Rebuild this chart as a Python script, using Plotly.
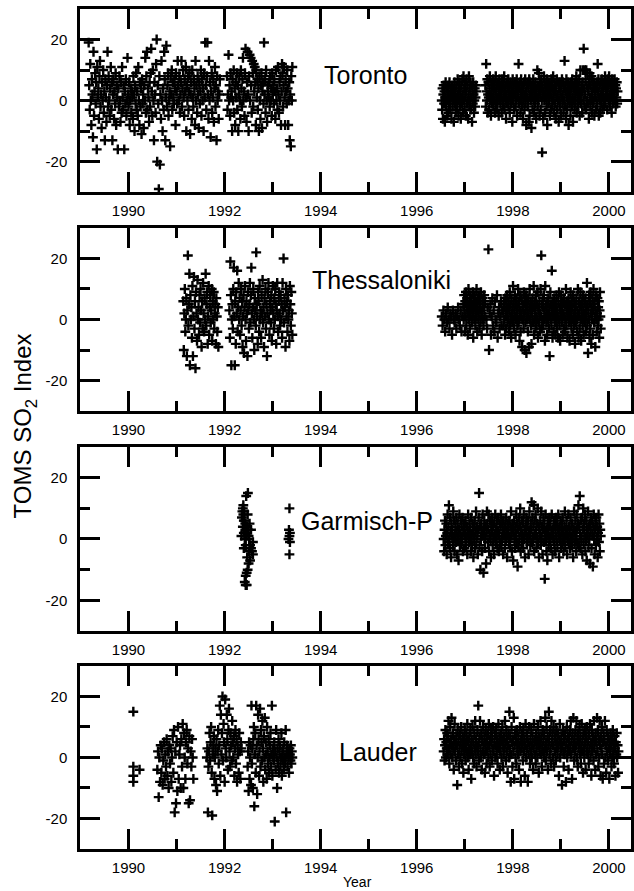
import plotly.graph_objects as go

# ---------------- data ----------------
# Each segment: (first year, last year, observed index values in time order)

toronto_1989_1991 = [
    19, 5, -3, 12, 0, -8, 7, 2, -12,
    16, -5, 3, 9, -1, 6, -16, 11, 1,
    4, -6, 8, 13, -2, 2, -9, 6, 0,
    10, -4, 3, -13, 7, 1, -7, 5, 16,
    -2, 8, 0, -5, 4, 11, -3, 6, -13,
    2, 7, -6, 3, -1, 9, -8, 5, 1,
    -16, 4, -2, 8, 0, -7, 6, -4, 11,
    1, -3, 5, -16, 3, -1, 7, -5, 0,
    14, 2, -2, 6, -8, 0, 4, -4, 3,
    1, -6, 8, 2, -10, 5, -1, 9, -3,
    3, -5, 11, 0, -8, 6, -2, 4, -11,
    7, -1, 2, -9, 5, 0, 14, -4, 8,
    16, -3, 4, 1, -7, 6, -2, 9, 17,
    3, -5, 10, 0, -13, 6, 2, -4, 12,
    20, -20, 5, -1, -29, 8, -21, 2, -6,
    13, 0, -10, 4, -3, 16, 7, -13, 1,
    18, -2, 5, 9, -5, 0, 3, -15, 8,
    2, 10, -3, 6, 1, -1, 7, 4, -8,
    9, 3, -1, 13, 5, 0, 8, -4, 2,
    6, 13, -2, 4, 10, 1, -5, 7, 3,
    11, -10, 5, 0, 8, -3, 3, 9, -11,
    2, 6, -6, 10, 1, -2, 7, 4, -8,
    13, 0, 5, -4, 8, 2, -9, 6, -1,
    3, 10, -5, 7, 0, 4, -10, 9, 1,
    19, 5, -3, 8, 19, 2, -6, 13, 0,
    6, -12, 3, 9, -4, 1, 7, -7, 4,
    11, -2, 5, -13, 8, 0, 3, -6, 2, 7,
]
toronto_1992_1993 = [
    8, -3, 2, 15, 0, 5, -5, 9, 1,
    3, -10, 7, 0, 10, -4, 4, -8, 6,
    1, 9, -3, 5, -10, 2, 8, 0, -6,
    10, 4, -2, 7, 14, 0, 3, -5, 9,
    17, 1, -7, 6, 16, 2, -10, 8, 15,
    0, 14, 5, -4, 13, 9, -2, 12, 3,
    11, 6, -8, 10, 1, 7, -3, 4, -10,
    8, 0, -6, 5, 9, -9, 3, 6, -1,
    19, 2, 7, -4, 10, 0, -7, 5, 3,
    1, 6, -2, 8, 0, 4, -5, 9, 2,
    5, -1, 7, 3, -6, 10, 0, 4, -3,
    11, 2, -4, 6, 0, 8, -8, 3, 12,
    9, -2, 5, 11, 1, -8, 7, 3, -1,
    10, 4, -8, 0, 6, -13, 2, -15, 8, 0, 11,
]
toronto_1996_1997 = [
    0, -3, 4, -6, 2, 5, -1, 3, -7,
    1, 6, -2, 4, 0, -5, 3, 5, -4,
    2, -1, 6, 0, -3, 4, 1, -6, 3,
    5, -2, 0, 4, -7, 2, 6, -1, 3,
    -4, 1, 5, 0, -3, 7, 2, -5, 4,
    0, 6, -2, 3, -6, 1, 5, -1, 7,
    2, -4, 8, 0, 4, -3, 6, 1, -5,
    3, 7, -1, 5, 0, -6, 2, 8, -2,
    4, 0, 6, -3, 1, 5, -7, 3, -1,
    6, 2, -4, 0, 4, -2, 1, 5, 3,
]
toronto_1997_2000 = [
    5, -2, 12, 3, 0, 7, -4, 2, 6, 1,
    -3, 4, 8, 0, 2, -5, 6, 3, -1, 5,
    1, 7, -2, 4, 0, 6, -4, 3, 8, -1,
    2, 5, -3, 0, 6, 1, -5, 4, 7, 0,
    3, -1, 5, 2, -4, 7, 0, 4, -2, 6,
    1, 8, -3, 3, 5, 0, -6, 2, 6, -1,
    4, 0, 7, -2, 3, 5, -4, 1, 6, 2,
    -1, 5, 3, -7, 7, 0, 4, 2, -3, 6,
    2, 6, -2, 4, 0, 7, -5, 3, 1, 5,
    12, -1, 4, 6, 0, -4, 3, 7, 1, -2,
    5, 2, -6, 4, 0, 6, -3, 2, 7, -1,
    3, -8, 5, 1, 6, -2, 0, 4, -7, 7,
    -5, 2, 6, 0, 3, -9, 5, 1, -3, 4,
    7, 0, -4, 3, 5, -1, 6, 2, -6, 4,
    1, 10, -2, 5, 0, 9, 3, -5, 6, 2,
    -3, 4, 7, 0, -17, 5, 2, -6, 3, 8,
    0, 6, -4, 3, 1, 5, -2, 7, -8, 2,
    4, -1, 6, 0, 3, -5, 5, 2, -3, 7,
    1, 5, -2, 4, 8, 0, -4, 3, 6, -1,
    3, -6, 5, 1, 7, -3, 2, 0, 6, -7,
    4, 0, -2, 6, 3, -5, 5, 1, 7, -1,
    2, 6, -4, 0, 4, 13, -2, 5, 3, -6,
    7, 1, -3, 4, 0, 6, -8, 2, 5, -1,
    3, -5, 6, 0, 4, -2, 7, 1, -7, 5,
    0, 4, -3, 6, 2, -1, 5, 8, -4, 3,
    6, 1, -2, 4, 0, 7, -5, 3, 10, 2,
    -1, 5, 3, -4, 6, 10, 0, 17, 4, -2,
    10, 2, 7, -3, 10, 5, 0, 9, -1, 4,
    3, -6, 6, 9, 1, -2, 5, 0, 8, -4,
    2, 7, -1, 4, 0, 6, -5, 3, 1, 5,
    -3, 4, 0, 6, -2, 12, 3, 7, -5, 1,
    5, 0, -4, 6, 2, -1, 7, 3, -3, 4,
    1, 6, -2, 5, 0, 8, -1, 3, 6, 2,
    4, -3, 7, 1, 5, 0, 8, 2, -2, 6,
    0, 5, 3, -4, 7, 1, 4, -1, 6, 2,
    3, 7, 0, 5, -2, 4, 1, 6, -1, 3,
]

thess_1991 = [
    6, -10, 2, 10, -4, 0, 7, -12, 3, 21,
    -2, 5, 15, -15, 8, 0, 4, -6, 11, -12,
    1, 14, -3, 6, -16, 9, 2, -7, 13, 0,
    4, -5, 8, -1, 10, 3, -9, 6, -3, 12,
    2, -4, 7, 0, 15, -2, 5, 9, -8, 1,
    11, -5, 4, 8, -1, 3, 10, -7, 6, 0,
    9, -3, 2, 5, -8, 7, 1, -4, 4, -9,
]
thess_1992_1993 = [
    3, -6, 19, 8, -15, 0, 5, -3, 10, 17,
    1, -15, 6, -8, 9, 2, 16, -4, 4, 12,
    0, 7, -5, 3, 10, -2, 6, -9, 1, 8,
    -11, 4, 11, 0, -7, 6, 2, -12, 9, 3,
    -3, 5, 12, -1, 8, 17, 2, -6, 4, 10,
    0, -10, 7, 3, -2, 22, 5, 1, -8, 9,
    6, -4, 11, 0, 3, -6, 8, 2, 13, -1,
    4, -9, 7, 1, 10, -3, 5, -12, 2, 9,
    12, 0, -5, 6, 3, -1, 8, -7, 4, 11,
    2, -3, 7, 0, 10, 5, -8, 3, 12, 1,
    -4, 6, 9, 2, -2, 8, 0, 5, -6, 12,
    3, 20, -1, 7, 4, -9, 10, 1, 6, -4,
    8, 0, 3, -7, 11, 5, -2, 9, 2, -5,
]
thess_1996 = [1, -2, 3, 0, -4, 2, -1, 4, 0, -3, 2, 1, -5, 3, 0, -1, 2, -3, 1, 4, 0, -2, 3, -4, 1]
thess_1997a = [
    5, 0, 8, 3, -4, 6, 1, 9, -2, 4,
    7, 2, -5, 5, 10, 0, 3, 6, -3, 8,
    1, 4, 7, -1, 5, 2, 9, -6, 3, 6,
    0, 8, 4, -2, 6, 1, 10, 3, -4, 5,
    7, 0, 2, 8, -3, 4, 6, -1, 9, 2,
    -5, 3, 7, 0, 5, -2, 4, 8, 1, 6,
]
thess_1997b = [0, -3, 4, 23, -10, 2, 5, -5, 1, 7, -2, 3, -4, 6, 0, -1, 8, -6, 2, 4, -3, 1, 6, -2, 3]
thess_1998_1999 = [
    3, -2, 6, 0, 4, -5, 7, 1, -3, 5,
    2, 8, -1, 4, 0, 6, -4, 3, 9, -2,
    5, 1, -6, 7, 2, -1, 4, 11, 0, 6,
    -3, 3, 8, 1, -5, 5, 0, 7, 2, -2,
    4, 10, -1, 6, 0, -7, 3, 8, -4, 2,
    1, 7, -9, 4, 0, 5, -3, 9, 2, -10,
    6, -1, 3, 8, -11, 0, 5, 2, -4, 7,
    1, -9, 4, 10, 0, 6, -2, 3, -8, 5,
    2, 7, -1, 4, 11, -5, 0, 6, 3, -3,
    8, 1, -2, 5, 0, 9, -6, 3, 4, -1,
    6, 2, -4, 10, 1, 21, -3, 5, 0, 7,
    -2, 4, 8, 0, 3, -7, 11, 1, 5, -1,
    3, -5, 6, 0, 2, 7, -3, 4, -12, 1,
    9, 0, 5, -2, 16, 3, -6, 6, 1, -4,
    4, 7, -1, 2, -5, 5, 0, 8, -3, 3,
    1, -6, 6, 0, 9, -2, 4, -7, 2, 5,
    8, -1, 3, 0, -5, 6, 2, -3, 7, 1,
    -4, 5, 0, 10, -2, 3, 6, -6, 1, 4,
    7, -1, 2, -7, 5, 0, 9, 3, -3, 6,
    0, 4, -5, 8, 1, -2, 6, 3, -8, 2,
    5, -1, 7, 0, -4, 3, 10, 1, -6, 6,
    2, -3, 5, 9, 0, -7, 4, 1, 6, -2,
    8, 3, -5, 0, 6, 2, -1, 7, -4, 4,
    1, 12, -2, 5, -11, 3, 0, 8, -6, 6,
    -3, 9, 2, -8, 4, 0, 7, -5, 3, 10,
    5, -1, 6, 1, -9, 3, 8, 0, -4, 2,
    7, -2, 4, 0, 6, -6, 3, 9, 1, -3,
]

# Garmisch-P 1992/1993: individually read points (year, value)
garm_1992_x = [1992.485, 1992.45, 1992.38, 1992.41, 1992.39, 1992.48, 1992.41, 1992.52, 1992.38,
               1992.55, 1992.40, 1992.46, 1992.35, 1992.50, 1992.42, 1992.59, 1992.44, 1992.55,
               1992.40, 1992.51, 1992.59, 1992.47, 1992.53, 1992.50, 1992.48, 1992.46, 1992.44,
               1992.42, 1992.44, 1992.46, 1992.36, 1992.43, 1992.37, 1992.49, 1992.45, 1992.53,
               1992.40, 1992.47, 1992.57, 1992.43, 1992.39, 1992.51]
garm_1992_y = [15, 14, 10, 9, 8, 8, 6, 5, 4,
               3, 2, 2, 1, 1, 0, -1, -2, -3,
               -3, -4, -5, -6, -7, -8, -10, -11, -12,
               -14, -15, -15, 7, 5, 9, 3, 1, -2,
               6, 4, -4, 3, 11, 0]
garm_1993_x = [1993.35, 1993.34, 1993.36, 1993.35, 1993.33, 1993.36, 1993.35]
garm_1993_y = [10, 3, 2, 1, 0, -1, -5]
garm_1996_1999 = [
    0, -4, 3, 6, -2, 1, 5, -5, 2, 8,
    -1, 4, 11, 0, -3, 7, 2, -6, 5, 1,
    3, -2, 9, 0, 6, -4, 1, 4, -1, 7,
    2, -5, 5, 0, -7, 3, 8, -2, 1, 6,
    -1, 4, 0, 7, -4, 2, 5, -3, 3, 1,
    6, -2, 0, 4, -5, 2, 8, 1, -1, 5,
    3, 0, -4, 7, 1, -2, 5, 2, -6, 4,
    0, 6, -3, 2, 9, -1, 4, 1, -5, 3,
    7, 15, -2, 4, -10, 0, 5, 2, -4, 8,
    1, -11, 3, 6, -3, 0, 4, -8, 2, 9,
    5, -1, 3, 8, -4, 1, 6, 0, -6, 4,
    2, 7, -2, 4, 0, -5, 5, 1, 8, -1,
    3, 0, 6, -3, 2, 7, -4, 1, 5, -1,
    4, 8, -2, 0, 5, 2, -5, 6, 1, 3,
    -3, 4, 0, 7, 2, -6, 5, 1, 3, -1,
    6, 0, -2, 4, 9, 1, -4, 3, 5, -7,
    2, 6, 0, -3, 4, 1, 8, -1, 5, -9,
    3, -2, 7, 0, 4, 10, -4, 2, 6, -1,
    1, 5, -3, 8, 0, 3, -6, 4, 2, 7,
    -1, 4, 0, 6, -5, 2, 9, 1, -2, 5,
    3, 12, -1, 7, 0, 4, 11, -4, 6, 1,
    8, 2, -3, 5, 0, 10, -1, 4, -6, 3,
    1, 6, -2, 9, 0, 4, -5, 3, 7, -1,
    5, -13, 2, 8, 0, -4, 3, -7, 6, 1,
    -2, 4, 7, 0, 5, -3, 2, 8, 1, -5,
    3, 0, 6, -1, 4, -4, 2, 7, 0, 5,
    -2, 3, 8, 1, -6, 4, 0, 6, -3, 2,
    5, -1, 7, 2, -4, 0, 4, 9, -2, 3,
    1, 6, -5, 3, 0, 8, -1, 4, 2, -3,
    7, 0, 4, -2, 5, 1, -6, 3, 9, -1,
    2, 6, 0, -4, 8, 3, -1, 5, 11, -2,
    4, 14, 1, -3, 6, 0, 7, -5, 3, 10,
    -1, 5, 2, 8, -4, 0, 6, -7, 3, 1,
    9, -2, 4, 0, -8, 5, 2, 7, -3, 6,
    1, -9, 4, 8, 0, -5, 3, 6, -2, 7,
    0, 4, -6, 2, 8, -1, 5, -4, 3, 1,
]

lauder_1990_x = [1990.10, 1990.10, 1990.10, 1990.10, 1990.23]
lauder_1990_y = [15, -3, -6, -8, -4]
lauder_1990_1991 = [
    -4, 2, -13, 0, -8, 4, -5, 3, -9, -1,
    5, -7, 1, -3, 6, -6, 2, -10, 4, -2,
    3, -8, 0, 7, -5, 9, -18, 2, -15, 5,
    -11, 10, -7, 1, 4, -10, 6, -3, 11, -10,
    8, 0, -7, 5, 9, -2, 3, -15, 7, -14,
    2, -3, 6, 0, -7,
]
lauder_1991_1992 = [
    0, 3, -18, -3, 2, 8, -1, 5, 10, -5,
    -19, 1, 4, 7, -7, 0, 3, -9, 6, -11,
    2, 9, -2, 4, 17, -6, 14, 1, 8, 20,
    -1, 11, 5, -8, 19, 3, 0, 14, 6, -4,
    9, 16, 2, -3, 8, 4, -1, 12, 5, 0,
    7, -6, 3, 9, -2, 6, -8, 4, 1, -5,
    8, 2, -7, 5, 3,
]
lauder_1992_1993 = [
    -3, 2, -11, 5, -7, 0, 4, -9, 17, -2,
    3, -10, 6, 10, -16, 1, 8, -5, 17, 4,
    -12, 0, 14, 6, -6, 2, 16, -3, 9, 5,
    -1, 12, 3, -8, 7, 0, 13, -4, 5, 1,
    -7, 10, 2, -2, 6, -5, 0, 4, 8, -3,
    1, 17, -6, 3, 0, -1, 5, -21, 2, -4,
    9, 0, -10, 3, -2, 6, -5, 1, 4, -3,
    0, 8, -6, 2, -1, 3, -4, 5, 0, -2,
    9, -18, 1, 4, -3, 2, 0, -5, 3, 1,
    -1, 4, -2, 2, 0,
]
lauder_1996_2000 = [
    2, 6, -1, 4, 9, 0, 5, 3, 8, 1,
    7, 12, 3, -2, 5, 10, 1, 6, 13, 4,
    0, 8, 3, -4, 6, 11, 2, 5, -1, 7,
    4, -9, 9, 1, 6, -3, 3, 8, 0, 5,
    10, 2, -2, 7, 4, -5, 6, 1, 9, 3,
    -1, 5, 8, 2, 11, 0, 6, -4, 3, 7,
    1, 9, 4, -7, 6, 2, 10, 0, 5, -2,
    8, 3, 12, 1, 6, -3, 4, 9, 2, 17,
    5, -1, 7, 12, 3, 0, 8, -4, 6, 2,
    10, 4, 1, 7, -5, 5, 9, 2, -2, 6,
    3, 8, 0, 11, 4, -3, 6, 1, 9, 5,
    -1, 7, 3, 10, 2, -6, 5, 8, 0, 4,
    9, 1, 6, -2, 4, 11, 3, 7, -4, 5,
    2, 8, 0, 6, 10, -3, 4, 1, 7, 3,
    12, 5, -1, 9, 2, 6, -5, 4, 8, 0,
    15, 3, 7, -8, 1, 10, 5, -3, 6, 2,
    13, -7, 4, 8, 0, 6, -2, 9, 3, 5,
    1, 7, -4, 4, 10, 2, -8, 6, 3, 8,
    5, -1, 9, 2, 6, -6, 4, 11, 0, 7,
    3, 8, -8, 5, 1, 10, 4, -2, 6, 2,
    9, 0, 4, 7, -4, 3, 11, 5, 1, 6,
    -2, 8, 3, 6, 0, 10, 4, -5, 7, 2,
    5, 12, 1, 7, -3, 4, 9, 2, 6, 0,
    8, 3, 13, -1, 5, 10, 2, 7, -4, 4,
    15, 6, 1, 9, 3, -2, 12, 5, 8, 0,
    4, 10, -3, 7, 2, 6, -1, 9, 3, 5,
    1, 8, 4, -6, 6, 11, 0, 5, 3, 7,
    -9, 4, 9, 2, -3, 6, 1, 8, 3, -8,
    5, 10, 0, 7, 3, -4, 6, 2, 9, 4,
    12, 1, 6, -7, 8, 3, 13, 5, -1, 7,
    2, 9, 4, 12, 0, 6, -3, 8, 3, 5,
    10, 1, 7, -2, 4, 11, 2, 6, -5, 8,
    3, 0, 9, 5, -4, 7, 2, 10, 4, 1,
    6, -2, 8, 3, 11, 0, 5, -6, 9, 2,
    4, 7, -1, 12, 3, 6, -4, 8, 1, 5,
    13, 2, 9, -3, 6, 0, 12, 4, -6, 7,
    3, 10, 1, -7, 5, 8, -2, 6, 12, 0,
    4, -5, 9, 2, 6, -1, 7, 3, -7, 5,
    1, 8, 4, -3, 6, 0, 9, 2, 5, -2,
    7, 3, -6, 5, 1, 8, 0, 4, -5, 2,
]

stations = ["Toronto", "Thessaloniki", "Garmisch-P", "Lauder"]
segments = {
    "Toronto": [(1989.17, 1991.90, toronto_1989_1991), (1992.05, 1993.41, toronto_1992_1993),
                (1996.52, 1997.24, toronto_1996_1997), (1997.43, 2000.18, toronto_1997_2000)],
    "Thessaloniki": [(1991.14, 1991.87, thess_1991), (1992.10, 1993.41, thess_1992_1993),
                     (1996.52, 1996.95, thess_1996), (1996.97, 1997.42, thess_1997a),
                     (1997.45, 1997.78, thess_1997b), (1997.80, 1999.83, thess_1998_1999)],
    "Garmisch-P": [(1996.56, 1999.83, garm_1996_1999)],
    "Lauder": [(1990.60, 1991.35, lauder_1990_1991), (1991.63, 1992.35, lauder_1991_1992),
               (1992.48, 1993.41, lauder_1992_1993), (1996.56, 2000.20, lauder_1996_2000)],
}
points = {
    "Toronto": ([], []),
    "Thessaloniki": ([], []),
    "Garmisch-P": (garm_1992_x + garm_1993_x, garm_1992_y + garm_1993_y),
    "Lauder": (lauder_1990_x, lauder_1990_y),
}
label_pos = {"Toronto": (1994.94, 8.5), "Thessaloniki": (1995.27, 12.9),
             "Garmisch-P": (1994.96, 6.0), "Lauder": (1995.2, 1.7)}

x_range = [1988.99, 2000.46]
y_range = [-30, 30]

# ---------------- figure ----------------
domains = [[0.782, 1.0], [0.5214, 0.7393], [0.2595, 0.4786], [0.0, 0.2179]]
font_fam = "Arial, Liberation Sans, Helvetica, sans-serif"

fig = go.Figure()
layout = dict(
    width=634, height=891,
    margin=dict(l=80, r=0, t=9, b=42),
    paper_bgcolor="white", plot_bgcolor="white",
    showlegend=False,
    font=dict(family=font_fam, size=15, color="black"),
)
annotations = []
for i, st in enumerate(stations):
    n = "" if i == 0 else str(i + 1)
    xs, ys = list(points[st][0]), list(points[st][1])
    for x0, x1, vals in segments[st]:
        m = len(vals)
        for k, v in enumerate(vals):
            xs.append(x0 + (x1 - x0) * k / (m - 1))
            ys.append(v)
    fig.add_trace(go.Scatter(
        x=xs, y=ys, mode="markers", xaxis="x" + n, yaxis="y" + n,
        marker=dict(symbol="cross-thin", size=7, color="black",
                    line=dict(width=2.4, color="black")),
        hoverinfo="skip",
    ))
    layout["xaxis" + n] = dict(
        domain=[0, 1], anchor="y" + n, range=x_range,
        tickmode="array", tickvals=[1990, 1992, 1994, 1996, 1998, 2000],
        ticktext=["1990", "1992", "1994", "1996", "1998", "2000"],
        ticks="inside", ticklen=20, tickwidth=2.5, tickcolor="black",
        minor=dict(tickmode="array", tickvals=[1989, 1991, 1993, 1995, 1997, 1999],
                   ticks="inside", ticklen=10, tickwidth=2.5, tickcolor="black"),
        showline=True, linewidth=2.5, linecolor="black", mirror="ticks",
        showgrid=False, zeroline=False, ticklabelstandoff=3,
        tickfont=dict(size=15, family=font_fam, color="black"),
    )
    layout["yaxis" + n] = dict(
        domain=domains[i], anchor="x" + n, range=y_range,
        tickmode="array", tickvals=[-20, 0, 20], ticktext=["-20", "0", "20"],
        ticks="inside", ticklen=20, tickwidth=2.5, tickcolor="black",
        minor=dict(tickmode="array", tickvals=[-10, 10],
                   ticks="inside", ticklen=10, tickwidth=2.5, tickcolor="black"),
        showline=True, linewidth=2.5, linecolor="black", mirror="ticks",
        showgrid=False, zeroline=False, ticklabelstandoff=7,
        tickfont=dict(size=15, family=font_fam, color="black"),
    )
    lx, ly = label_pos[st]
    annotations.append(dict(x=lx, y=ly, xref="x" + n, yref="y" + n, text=st,
                            xanchor="center", yanchor="middle",
                            showarrow=False, font=dict(size=25, family=font_fam, color="black")))

annotations.append(dict(x=-0.099, y=0.5036, xref="paper", yref="paper",
                        xanchor="center", yanchor="middle",
                        text="TOMS SO<sub>2</sub> Index", textangle=-90, showarrow=False,
                        font=dict(size=24, family=font_fam, color="black")))
annotations.append(dict(x=0.5036, y=-0.039, xref="paper", yref="paper", text="Year",
                        xanchor="center", yanchor="middle",
                        showarrow=False, font=dict(size=14, family=font_fam, color="black")))
layout["annotations"] = annotations
fig.update_layout(**layout)
fig.write_html("out.html")
